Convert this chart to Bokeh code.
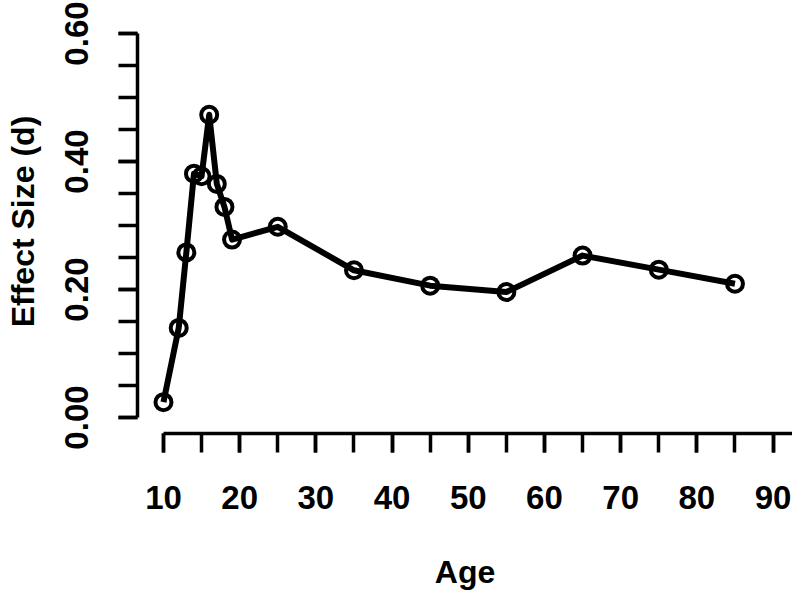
from bokeh.plotting import figure
from bokeh.models import FixedTicker, PrintfTickFormatter, Range1d
from bokeh.embed import file_html
from bokeh.resources import INLINE

# Data
ages = [10, 12, 13, 14, 15, 16, 17, 18, 19, 25, 35, 45, 55, 65, 75, 85]
effect = [0.024, 0.140, 0.258, 0.381, 0.377, 0.473, 0.365, 0.329, 0.278,
          0.298, 0.230, 0.206, 0.196, 0.253, 0.231, 0.209]

x_major = [10, 20, 30, 40, 50, 60, 70, 80, 90]
x_minor = [10, 15, 20, 25, 30, 35, 40, 45, 50, 55, 60, 65, 70, 75, 80, 85, 90]
y_major = [0.0, 0.2, 0.4, 0.6]
y_minor = [0.0, 0.05, 0.1, 0.15, 0.2, 0.25, 0.3, 0.35, 0.4, 0.45, 0.5, 0.55, 0.6]

x_title = "Age"
y_title = "Effect Size (d)"

FONT = "Liberation Sans"

p = figure(width=792, height=593, output_backend="svg", toolbar_location=None,
           x_range=Range1d(6.59, 92.55), y_range=Range1d(-0.025, 0.6375),
           min_border_left=137, min_border_right=0, min_border_top=9,
           min_border_bottom=160)
p.outline_line_color = None
p.xgrid.visible = False
p.ygrid.visible = False
p.background_fill_color = "white"

p.line(ages, effect, line_color="black", line_width=6, line_join="round")
p.scatter(ages, effect, marker="circle", size=16, line_color="black",
          line_width=4, fill_alpha=0)

for ax in (p.xaxis[0], p.yaxis[0]):
    ax.axis_line_width = 3.5
    ax.major_tick_line_width = 3.5
    ax.minor_tick_line_width = 3.5
    ax.major_tick_in = 0
    ax.minor_tick_in = 0
    ax.major_tick_out = 19
    ax.minor_tick_out = 19
    ax.axis_line_color = "black"
    ax.major_tick_line_color = "black"
    ax.minor_tick_line_color = "black"
    ax.major_label_text_font = FONT
    ax.major_label_text_font_style = "bold"
    ax.major_label_text_font_size = "33px"
    ax.major_label_text_color = "black"
    ax.axis_label_text_font = FONT
    ax.axis_label_text_font_style = "bold"
    ax.axis_label_text_font_size = "32px"
    ax.axis_label_text_color = "black"

p.xaxis.ticker = FixedTicker(ticks=x_major, minor_ticks=x_minor)
p.xaxis.bounds = (10, 95)
p.xaxis.axis_label = x_title
p.xaxis.major_label_standoff = 33
p.xaxis.axis_label_standoff = 42

p.yaxis.ticker = FixedTicker(ticks=y_major, minor_ticks=y_minor)
p.yaxis.bounds = (0, 0.6)
p.yaxis.formatter = PrintfTickFormatter(format="%.2f")
p.yaxis.major_label_orientation = "vertical"
p.yaxis.axis_label = y_title
p.yaxis.major_label_standoff = 31
p.yaxis.axis_label_standoff = 21

open("out.html", "w").write(file_html(p, INLINE))
